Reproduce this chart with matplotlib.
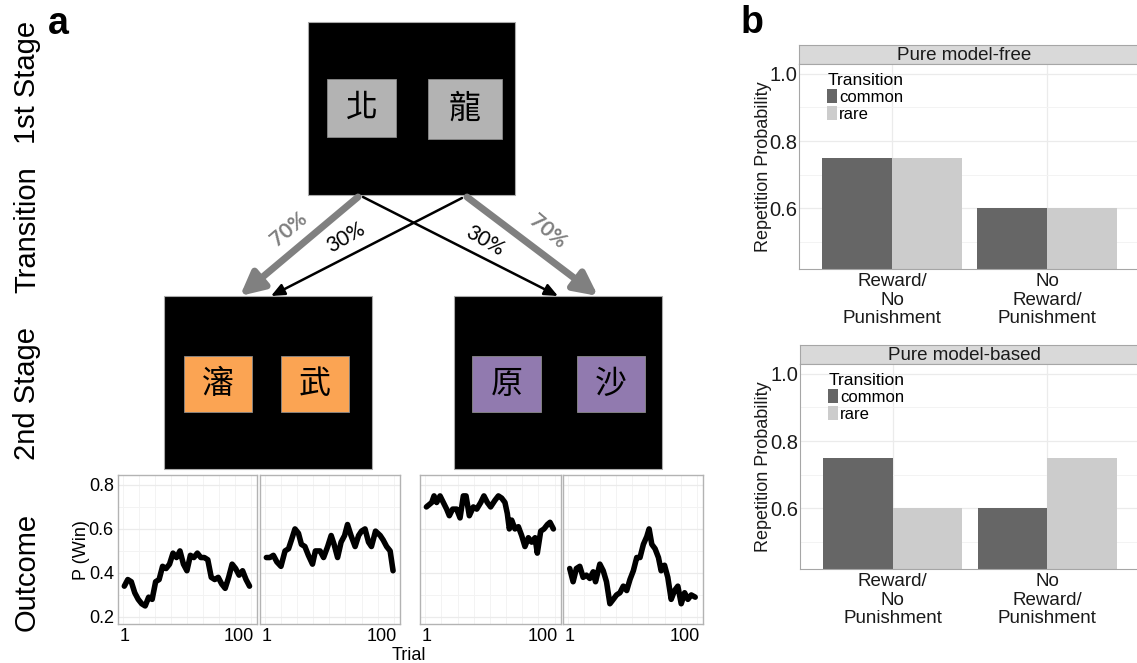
import numpy as np
import matplotlib.pyplot as plt
from matplotlib.patches import Rectangle, FancyArrowPatch

# ---- data -----------------------------------------------------------------
# outcome panels: P(win) random walks for the four 2nd-stage options
trial_1 = [1, 4, 7, 10, 13, 16, 19, 22, 25, 28, 31, 34, 37, 40, 43, 46, 49, 52, 55,
           58, 61, 64, 67, 70, 73, 76, 79, 82, 85, 88, 91, 94, 97, 100, 103, 106, 109]
pwin_1 = [0.34, 0.37, 0.36, 0.31, 0.28, 0.26, 0.25, 0.29, 0.28, 0.36, 0.37, 0.43, 0.42,
          0.44, 0.49, 0.47, 0.50, 0.44, 0.41, 0.48, 0.47, 0.49, 0.47, 0.47, 0.46, 0.38,
          0.37, 0.38, 0.35, 0.33, 0.38, 0.44, 0.42, 0.39, 0.41, 0.37, 0.34]

trial_2 = [1, 4, 7, 10, 13.5, 17, 20, 22.5, 25.5, 28.5, 31, 34, 37, 40.5, 43, 47, 50,
           53.5, 56.5, 59, 62, 65, 68, 70.5, 73.5, 77, 80, 82.5, 85.5, 88.5, 91, 94.5,
           98.5, 101, 104, 107, 109.5]
pwin_2 = [0.47, 0.47, 0.48, 0.45, 0.43, 0.50, 0.51, 0.55, 0.60, 0.58, 0.53, 0.52, 0.48,
          0.44, 0.50, 0.50, 0.47, 0.52, 0.57, 0.53, 0.47, 0.54, 0.57, 0.62, 0.57, 0.52,
          0.57, 0.59, 0.60, 0.54, 0.52, 0.59, 0.57, 0.55, 0.52, 0.50, 0.41]

trial_3 = [1, 5.5, 7.5, 9.7, 12.6, 15.4, 18.2, 20.5, 23.3, 26.7, 29.6, 32.4, 34.7, 37.5,
           40.9, 43.8, 47.2, 49.9, 52.8, 55.6, 59.3, 62.2, 65, 67.8, 69.8, 71.5, 73.5,
           76.3, 79.2, 82, 84.8, 87.7, 90.5, 93.4, 95.3, 98.2, 101, 103.9, 106.1, 109]
pwin_3 = [0.70, 0.72, 0.75, 0.72, 0.75, 0.72, 0.69, 0.66, 0.69, 0.69, 0.65, 0.75, 0.75,
          0.66, 0.70, 0.69, 0.72, 0.75, 0.72, 0.70, 0.73, 0.75, 0.74, 0.72, 0.67, 0.60,
          0.64, 0.60, 0.61, 0.57, 0.52, 0.56, 0.54, 0.56, 0.49, 0.59, 0.60, 0.62, 0.63, 0.60]

trial_4 = [1.3, 4.2, 7, 9.9, 12.8, 15.6, 18.5, 21.4, 23.4, 27.1, 30, 32.8, 35.7, 38.6,
           41.4, 44.3, 47.2, 50.1, 52.9, 55.8, 58.7, 61.5, 64.4, 67.3, 69.3, 71.6, 74.4,
           77.3, 79.6, 82.5, 85.3, 88.2, 91.1, 93.9, 96.8, 99.7, 102.5, 105.4, 108.8]
pwin_4 = [0.42, 0.36, 0.42, 0.43, 0.38, 0.39, 0.375, 0.405, 0.36, 0.44, 0.41, 0.36, 0.26,
          0.28, 0.30, 0.31, 0.34, 0.32, 0.37, 0.41, 0.47, 0.47, 0.53, 0.565, 0.60, 0.53,
          0.51, 0.47, 0.41, 0.435, 0.38, 0.28, 0.32, 0.34, 0.26, 0.31, 0.28, 0.30, 0.29]

outcome_ticks = [1, 100]
outcome_yticks = [0.2, 0.4, 0.6, 0.8]

# panel b: repetition probabilities
conditions = ['Reward/\nNo\nPunishment', 'No\nReward/\nPunishment']
mf_common = [0.75, 0.60]
mf_rare = [0.75, 0.60]
mb_common = [0.75, 0.60]
mb_rare = [0.60, 0.75]
bar_yticks = [0.6, 0.8, 1.0]

# stimuli
first_stage = ['北', '龍']
second_left = ['瀋', '武']
second_right = ['原', '沙']

# ---- figure setup ---------------------------------------------------------
W, H = 1137, 663
fig = plt.figure(figsize=(W / 100, H / 100), dpi=100)
SANS = ['Liberation Sans', 'DejaVu Sans']
CJK = ['Noto Sans CJK TC', 'DejaVu Sans']
GRID = '#ebebeb'
BORDER = '#b3b3b3'


def px_axes(x0, y0, x1, y1):
    return fig.add_axes([x0 / W, 1 - y1 / H, (x1 - x0) / W, (y1 - y0) / H])


# overlay in pixel coordinates for the task diagram
ax0 = fig.add_axes([0, 0, 1, 1])
ax0.set_xlim(0, W)
ax0.set_ylim(H, 0)
ax0.axis('off')


def stim_box(x0, y0, x1, y1, color, char):
    ax0.add_patch(Rectangle((x0, y0), x1 - x0, y1 - y0, facecolor=color,
                            edgecolor='#8a8a8a', lw=0.6))
    ax0.text((x0 + x1) / 2, (y0 + y1) / 2, char, family=CJK, fontsize=23,
             ha='center', va='center', color='black')


# 1st stage
ax0.add_patch(Rectangle((308, 22), 207, 173, facecolor='black', edgecolor='#aaaaaa', lw=0.8))
stim_box(327, 79, 396, 137, '#b3b3b3', first_stage[0])
stim_box(428, 79, 502, 139, '#b3b3b3', first_stage[1])

# 2nd stage
ax0.add_patch(Rectangle((164, 296), 208, 173, facecolor='black', edgecolor='#aaaaaa', lw=0.8))
stim_box(184, 356, 252, 412, '#fba453', second_left[0])
stim_box(281, 356, 349, 412, '#fba453', second_left[1])
ax0.add_patch(Rectangle((454, 296), 208, 173, facecolor='black', edgecolor='#aaaaaa', lw=0.8))
stim_box(472, 356, 541, 412, '#917aaf', second_right[0])
stim_box(577, 356, 645, 412, '#917aaf', second_right[1])

# transition arrows: common (grey, thick) and rare (black, crossing)
for (p0, p1) in [((358, 197), (240, 296)), ((467, 197), (598, 296))]:
    ax0.add_patch(FancyArrowPatch(p0, p1, arrowstyle='-|>,head_length=14,head_width=7',
                                  mutation_scale=1, color='#808080', lw=5,
                                  shrinkA=0, shrinkB=0))
for (p0, p1) in [((363, 197), (558, 296)), ((462, 198), (271, 296))]:
    ax0.add_patch(FancyArrowPatch(p0, p1, arrowstyle='-|>,head_length=8,head_width=3.5',
                                  mutation_scale=1, color='black', lw=1.8,
                                  shrinkA=0, shrinkB=0))

ax0.text(289, 229, '70%', family=['Lato'] + SANS, fontsize=15, fontweight='bold',
         color='#808080', rotation=40, ha='center', va='center')
ax0.text(346, 238, '30%', family=['Lato'] + SANS, fontsize=15,
         color='black', rotation=30, ha='center', va='center')
ax0.text(485, 241, '30%', family=['Lato'] + SANS, fontsize=15,
         color='black', rotation=-30, ha='center', va='center')
ax0.text(548, 232, '70%', family=['Lato'] + SANS, fontsize=15, fontweight='bold',
         color='#808080', rotation=-40, ha='center', va='center')

# row labels and panel letters
for label, yc in [('1st Stage', 82), ('Transition', 230), ('2nd Stage', 394), ('Outcome', 572)]:
    ax0.text(27, yc, label, family=SANS, fontsize=21, rotation=90, ha='center', va='center')
ax0.text(58, 24, 'a', family=SANS, fontsize=27, fontweight='bold', ha='center', va='center')
ax0.text(752, 23, 'b', family=SANS, fontsize=27, fontweight='bold', ha='center', va='center')

# ---- outcome panels -------------------------------------------------------
outcome_grid_x = [0, 13.75, 27.5, 41.25, 55, 68.75, 82.5, 96.25, 110]
panels = [((118, 475, 257, 624), trial_1, pwin_1),
          ((260, 475, 400, 624), trial_2, pwin_2),
          ((420, 475, 561, 624), trial_3, pwin_3),
          ((563, 475, 703, 624), trial_4, pwin_4)]
for i, (box, t, p) in enumerate(panels):
    ax = px_axes(*box)
    ax.plot(t, p, color='black', lw=4, solid_joinstyle='round', solid_capstyle='round')
    ax.set_xlim(-4.45, 115.45)
    ax.set_ylim(0.168, 0.845)
    ax.set_xticks(outcome_ticks)
    ax.set_xticklabels([str(v) for v in outcome_ticks], family=SANS, fontsize=13)
    ax.set_xticks(outcome_grid_x, minor=True)
    ax.set_yticks(outcome_yticks)
    ax.set_yticks([0.3, 0.5, 0.7], minor=True)
    if i == 0:
        ax.set_yticklabels([f'{v:.1f}' for v in outcome_yticks], family=SANS, fontsize=13)
    else:
        ax.set_yticklabels([])
    ax.tick_params(which='both', length=0, pad=3)
    ax.grid(which='major', axis='y', color=GRID, lw=0.9)
    ax.grid(which='minor', color='#f3f3f3', lw=0.7)
    ax.set_axisbelow(True)
    for s in ax.spines.values():
        s.set_color(BORDER)
        s.set_linewidth(1.0)

fig.text(82 / W, 1 - 550 / H, 'P (Win)', family=SANS, fontsize=13, rotation=90,
         ha='center', va='center')
fig.text(409 / W, 1 - 655 / H, 'Trial', family=SANS, fontsize=13, ha='center', va='center')

# ---- panel b: bar charts --------------------------------------------------


def bar_panel(strip_box, plot_box, title, common, rare):
    sax = px_axes(*strip_box)
    sax.set_facecolor('#d9d9d9')
    sax.set_xticks([])
    sax.set_yticks([])
    for s in sax.spines.values():
        s.set_color('#a6a6a6')
    sax.text(0.485, 0.47, title, transform=sax.transAxes, family=SANS, fontsize=13.5,
             ha='center', va='center', color='#1a1a1a')

    ax = px_axes(*plot_box)
    x = np.arange(1, len(conditions) + 1)
    ax.bar(x - 0.225, common, 0.45, color='#666666', label='common', zorder=2)
    ax.bar(x + 0.225, rare, 0.45, color='#cccccc', label='rare', zorder=2)
    ax.set_xlim(0.4, 2.6)
    ax.set_ylim(0.42, 1.029)
    ax.set_xticks(x)
    ax.set_xticklabels(conditions, family=SANS, fontsize=13.5, linespacing=1.12,
                       color='#1a1a1a')
    ax.set_yticks(bar_yticks)
    ax.set_yticklabels([f'{v:.1f}' for v in bar_yticks], family=SANS, fontsize=14.5,
                       color='#1a1a1a')
    ax.set_yticks([0.5, 0.7, 0.9], minor=True)
    ax.tick_params(which='both', length=0)
    ax.tick_params(axis='x', pad=3)
    ax.tick_params(axis='y', pad=1)
    ax.grid(which='major', color=GRID, lw=0.9)
    ax.grid(which='minor', axis='y', color='#f3f3f3', lw=0.7)
    ax.set_axisbelow(True)
    for s in ax.spines.values():
        s.set_color('#a6a6a6')
    leg = ax.legend(title='Transition', loc='upper left', bbox_to_anchor=(0.083, 0.955),
                    frameon=False, borderpad=0, handlelength=0.6, handleheight=0.95,
                    handletextpad=0.1, labelspacing=0.05, borderaxespad=0,
                    alignment='left', prop={'family': SANS, 'size': 12})
    leg.get_title().set_fontsize(12.5)
    leg.get_title().set_family(SANS)
    yc = 1 - (plot_box[1] + plot_box[3]) / 2 / H
    fig.text(763 / W, yc, 'Repetition Probability', family=SANS, fontsize=13,
             rotation=90, ha='center', va='center', color='#1a1a1a')


bar_panel((799, 45, 1140, 64), (799, 64, 1140, 269), 'Pure model-free', mf_common, mf_rare)
bar_panel((800, 345, 1140, 364), (800, 364, 1140, 569), 'Pure model-based', mb_common, mb_rare)

fig.savefig('out.png', dpi=100)
